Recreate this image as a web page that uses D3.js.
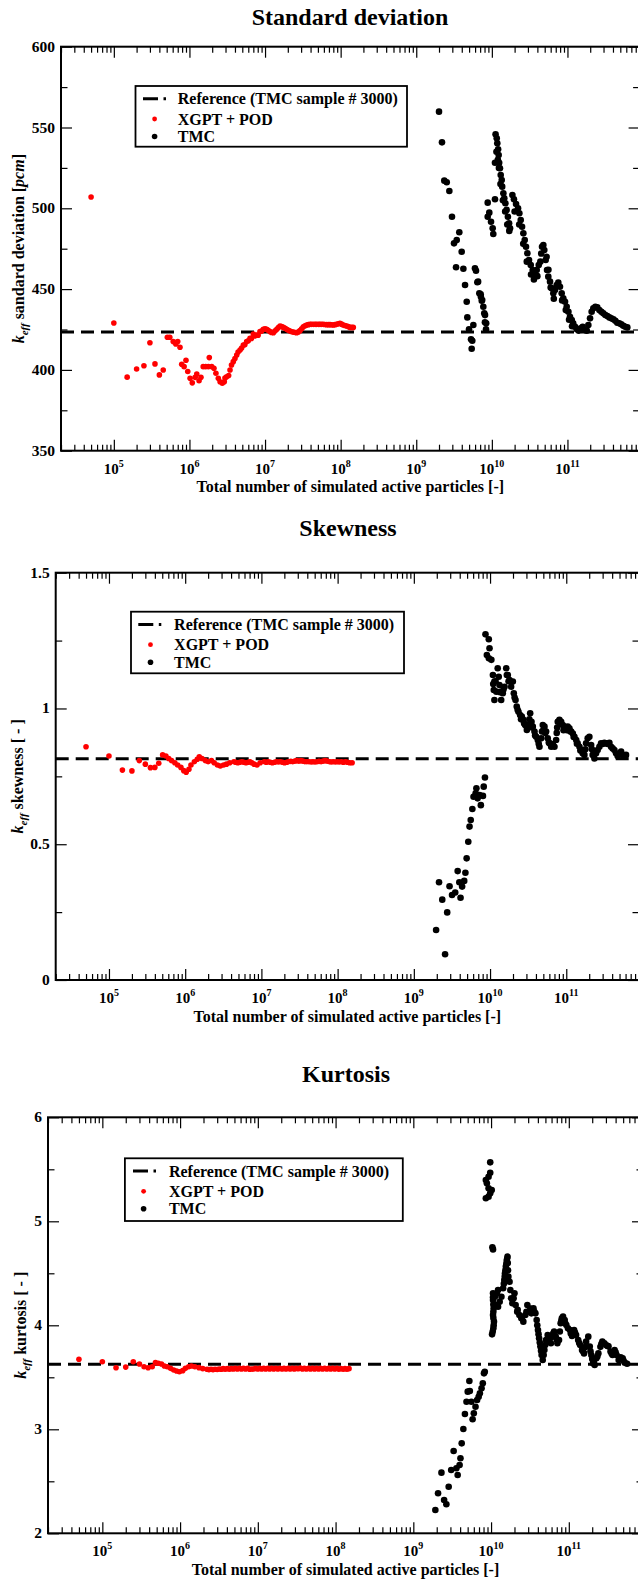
<!DOCTYPE html>
<html><head><meta charset="utf-8">
<script src="https://cdn.jsdelivr.net/npm/d3@7"></script>
<style>
body{margin:0;background:#fff}
svg{display:block}
text{font-family:"Liberation Serif","Times New Roman",serif;font-weight:bold;fill:#000}
</style></head>
<body><svg id="c" width="638" height="1580"></svg>
<script>
// ---------------- DATA ----------------
const xDomain = [2e4, 9e11];
const xLabelExps = [5, 6, 7, 8, 9, 10, 11];
const legendLabels = ["Reference (TMC sample # 3000)", "XGPT + POD", "TMC"];
const titles = ["Standard deviation", "Skewness", "Kurtosis"];
const yTitleWords = [" sandard deviation [", " skewness [ - ]", " kurtosis [ - ]"];

const stdYMajor = [350, 400, 450, 500, 550, 600];
const stdYMinor = [375, 425, 475, 525, 575];
const skewYMajor = [0, 0.5, 1, 1.5];
const skewYMinor = [0.25, 0.75, 1.25];
const kurtYMajor = [2, 3, 4, 5, 6];
const kurtYMinor = [2.5, 3.5, 4.5, 5.5];

const refStd = 423.5, refSkew = 0.815, refKurt = 3.625;

const stdXgpt = [[5.0e4,507],[1.0e5,429],[1.5e5,395.5],[2.0e5,400.6],[2.5e5,402.6],[3.0e5,416.8],[3.5e5,403.7],[4.0e5,396.9],[4.5e5,399.9],[5.1e5,420.2],[5.5e5,420.2],[6.1e5,417.5],[6.6e5,416],[7.0e5,417.5],[7.5e5,414],[7.9e5,403.5],[8.5e5,402],[9.0e5,406],[9.5e5,399],[1.02e6,394.8],[1.09e6,392],[1.19e6,395.4],[1.25e6,397.5],[1.34e6,393.3],[1.42e6,395.4],[1.52e6,402],[1.64e6,402],[1.78e6,402],[1.83e6,407.6],[1.97e6,402],[2.11e6,401],[2.24e6,397.9],[2.41e6,394.8],[2.54e6,392.7],[2.72e6,391.7],[2.89e6,392.7],[3.10e6,395.8],[3.44e6,399.9],[3.80e6,405.1],[4.22e6,409.2],[4.67e6,412.3],[5.16e6,415.4],[5.71e6,417.5],[6.32e6,419.5],[7.00e6,422.2],[7.74e6,421.6],[8.57e6,423.7],[9.48e6,425.1],[1.05e7,425.1],[1.16e7,423.7],[1.29e7,423.0],[1.43e7,425.1],[1.58e7,427.2],[1.75e7,426.3],[1.93e7,425.1],[2.14e7,424.1],[2.37e7,423.4],[2.62e7,423.0],[2.90e7,424.3],[3.21e7,426.7],[3.55e7,427.8],[3.93e7,428.2],[4.35e7,428.2],[4.81e7,428.2],[5.32e7,428.2],[5.89e7,428.2],[6.53e7,428.0],[7.23e7,428.0],[8.0e7,427.8],[8.85e7,428.2],[9.79e7,428.8],[1.08e8,427.8],[1.20e8,427.2],[1.33e8,426.3],[1.47e8,426.3],
[2.95e6,395],[3.3e6,396.5],[3.6e6,403],[4.0e6,407],[4.4e6,411],[4.9e6,413.5],[5.4e6,415.5],[6.0e6,418],[6.6e6,419.5],[7.3e6,421],[8.1e6,421.5],[9.0e6,424],[1.0e7,425.5],[1.1e7,424.5],[1.22e7,423.2],[1.36e7,424.2],[1.5e7,426.2],[1.66e7,426.8],[1.84e7,425.8],[2.04e7,424.5],[2.25e7,423.6],[2.5e7,423.1],[2.76e7,423.5],[3.05e7,425.5],[3.38e7,427.3],[3.74e7,428],[4.1e7,428.2],[4.6e7,428.2],[5.1e7,428.2],[5.6e7,428.2],[6.2e7,428.1],[6.9e7,428],[7.6e7,427.9],[8.4e7,428],[9.3e7,428.5],[1.03e8,428.3],[1.14e8,427.5],[1.26e8,426.8],[1.4e8,426.3]];

const stdTmc = [[2.0e9,559.8],[2.19e9,540.8],[2.35e9,517.1],[2.53e9,516.1],[2.74e9,510.7],[2.97e9,494.8],[3.16e9,478.3],[3.43e9,480.4],[3.71e9,485.2],[3.99e9,473.1],[3.36e9,463.5],[4.2e9,462.6],[4.42e9,452.5],[4.65e9,442.2],[4.74e9,432.5],[4.99e9,425.1],[5.69e9,427.8],[5.3e9,418.9],[5.51e9,418.0],[5.41e9,413.1],[5.98e9,462.9],[6.17e9,461.4],[6.43e9,454.2],[6.58e9,454.6],[6.83e9,447.4],[7.12e9,446.8],[7.16e9,445.3],[7.35e9,442.8],[7.45e9,443.3],[7.71e9,439.1],[7.94e9,435.0],[8.12e9,433.9],[8.1e9,429.5],[8.37e9,425.1],[8.41e9,428.8],[8.81e9,503.5],[8.81e9,494.8],[9.25e9,497.3],[9.75e9,491.7],[1.025e10,487.6],[1.045e10,484.1],[1.1e10,505.6],
[1.10e10,528.2],[1.12e10,545.8],[1.16e10,543.3],[1.18e10,540.2],[1.21e10,536.5],[1.23e10,533],[1.25e10,528.2],[1.28e10,524.8],[1.31e10,520.6],[1.35e10,517.5],[1.37e10,513.4],[1.42e10,509.3],[1.46e10,506.2],[1.51e10,503.1],[1.57e10,499],[1.63e10,494.8],[1.69e10,490.7],[1.74e10,487.6],
[1.15e10,535],[1.2e10,530],[1.24e10,525],[1.3e10,515],[1.4e10,505],[1.5e10,498],[1.6e10,490],[1.7e10,486],
[1.87e10,508.2],[1.96e10,505.6],[2.09e10,502.7],[2.22e10,500],[2.31e10,496.9],[2.41e10,492.8],[2.51e10,488.6],[2.61e10,484.5],[2.72e10,480.4],[2.83e10,476.2],[2.95e10,472.2],[3.10e10,468],[3.27e10,464.9],[3.47e10,461.8],[3.69e10,458.7],[3.92e10,461.8],[4.17e10,464.9],[4.38e10,467],[4.5e10,472],[4.61e10,476.2],[4.80e10,477.3],[4.94e10,474.2],[5.15e10,468],[5.37e10,461.8],[5.58e10,457.7],[5.88e10,454.6],[6.19e10,450.5],[6.50e10,447.4],[6.84e10,449.4],[7.21e10,452.5],[7.57e10,454.0],[7.96e10,451.5],[8.39e10,447.4],[8.81e10,444.3],[9.29e10,442.2],[9.77e10,439.1],[1.03e11,436],[1.08e11,432.9],[1.14e11,430.9],[1.19e11,428.8],[1.26e11,426.7],[1.33e11,425.1],[1.41e11,424.3],[1.50e11,425.8],[1.59e11,426.7],[1.69e11,424.7],[1.80e11,424.3],[1.89e11,427.8],[1.99e11,431.9],[2.09e11,436],[2.20e11,438.1],[2.34e11,439.1],[2.48e11,438.7],[2.64e11,437.1],[2.81e11,436],[2.98e11,435],[3.17e11,434],[3.37e11,433.4],[3.58e11,432.5],[3.80e11,431.9],[4.05e11,431.3],[4.30e11,430.4],[4.56e11,429.2],[4.85e11,428.8],[5.15e11,428.2],[5.48e11,427.3],[5.82e11,426.7],[6.19e11,426.3],
[2.0e10,498],[2.3e10,490],[2.6e10,478],[2.9e10,467],[3.3e10,459],[3.6e10,456],[4.0e10,458],[5.3e10,470],[5.6e10,462],[6.0e10,451],[6.6e10,444],[8.5e10,443],[9.5e10,437],[1.05e11,431],[1.15e11,427]];

const skewXgpt = [[5.0e4,0.859],[1.0e5,0.825],[1.5e5,0.773],[2.0e5,0.770],[2.5e5,0.808],[3.0e5,0.795],[3.5e5,0.782],[4.0e5,0.783],[4.5e5,0.798],[5.06e5,0.829],[5.58e5,0.825],[6.08e5,0.816],[6.62e5,0.808],[7.31e5,0.800],[7.96e5,0.792],[8.79e5,0.783],[9.58e5,0.771],[1.03e6,0.765],[1.12e6,0.776],[1.19e6,0.792],[1.32e6,0.804],[1.44e6,0.813],[1.53e6,0.822],[1.66e6,0.816],[1.84e6,0.808],[2.0e6,0.804],[2.21e6,0.808],[2.40e6,0.800],[2.65e6,0.792],[2.89e6,0.788],[3.19e6,0.792],[3.48e6,0.795],[3.84e6,0.800],[4.35e6,0.804],[4.90e6,0.800],[5.55e6,0.804],[6.28e6,0.800],[7.08e6,0.804],[8.02e6,0.795],[8.75e6,0.792],[9.64e6,0.800],[1.09e7,0.804],[1.23e7,0.804],[1.39e7,0.800],[1.57e7,0.804],[1.78e7,0.804],[2.01e7,0.800],[2.28e7,0.804],[2.58e7,0.804],[2.90e7,0.808],[3.29e7,0.808],[3.72e7,0.804],[4.20e7,0.804],[4.75e7,0.804],[5.38e7,0.804],[6.07e7,0.804],[6.87e7,0.808],[7.78e7,0.804],[8.77e7,0.804],[9.93e7,0.804],[1.12e8,0.804],[1.27e8,0.804],[1.44e8,0.800],[1.55e8,0.800],
[4.6e6,0.802],[5.2e6,0.802],[5.9e6,0.802],[6.7e6,0.802],[7.5e6,0.800],[1.16e7,0.802],[1.31e7,0.802],[1.48e7,0.802],[1.67e7,0.803],[1.9e7,0.802],[2.15e7,0.802],[2.43e7,0.805],[2.75e7,0.806],[3.1e7,0.806],[3.5e7,0.806],[3.95e7,0.804],[4.5e7,0.803],[5.05e7,0.803],[5.7e7,0.805],[6.45e7,0.806],[7.3e7,0.806],[8.25e7,0.803],[9.35e7,0.803],[1.05e8,0.803],[1.19e8,0.802],[1.35e8,0.802]];

const skewTmc = [[1.96e9,0.184],[2.14e9,0.360],[2.36e9,0.296],[2.57e9,0.095],[2.74e9,0.249],[2.94e9,0.345],[3.17e9,0.313],[3.49e9,0.322],[3.76e9,0.401],[3.95e9,0.360],[4.10e9,0.303],[4.30e9,0.344],[4.58e9,0.365],[4.75e9,0.395],[4.93e9,0.448],[5.18e9,0.509],[5.38e9,0.565],[5.58e9,0.589],[5.86e9,0.630],[6.07e9,0.675],[6.47e9,0.688],[6.62e9,0.706],[6.87e9,0.669],[7.29e9,0.681],[7.57e9,0.644],[8.07e9,0.678],[8.26e9,0.712],[8.57e9,0.746],
[8.71e9,1.273],[9.63e9,1.255],[9.84e9,1.222],[9.08e9,1.197],[9.64e9,1.185],[1.04e10,1.179],[1.09e10,1.123],[1.12e10,1.068],[1.14e10,1.099],[1.14e10,1.031],[1.21e10,1.062],[1.26e10,1.148],[1.30e10,1.117],[1.33e10,1.086],[1.40e10,1.031],[1.47e10,1.056],[1.55e10,1.080],[1.63e10,1.148],[1.66e10,1.123],[1.71e10,1.123],[1.80e10,1.105],[1.89e10,1.080],[1.99e10,1.099],[2.05e10,1.056],[2.16e10,1.031],[2.24e10,1.007],[2.36e10,0.988],[2.48e10,0.976],[2.61e10,0.970],[2.74e10,0.958],[2.89e10,0.939],[3.04e10,0.921],[3.19e10,0.939],[3.28e10,0.960],[3.36e10,0.982],[3.50e10,0.951],[3.64e10,0.933],[3.83e10,0.915],[4.03e10,0.896],[4.23e10,0.884],[4.45e10,0.859],[4.69e10,0.890],[4.80e10,0.915],[4.92e10,0.939],[5.18e10,0.933],[5.44e10,0.915],[5.71e10,0.890],[6.01e10,0.872],[6.34e10,0.859],[6.65e10,0.869],[7.00e10,0.859],[7.36e10,0.884],[7.50e10,0.910],[7.60e10,0.930],[7.73e10,0.951],[8.13e10,0.958],[8.57e10,0.951],[8.99e10,0.939],[9.46e10,0.933],[9.95e10,0.927],[1.045e11,0.933],[1.10e11,0.927],[1.16e11,0.915],[1.22e11,0.908],[1.28e11,0.896],[1.35e11,0.884],[1.41e11,0.872],[1.49e11,0.859],[1.57e11,0.847],[1.64e11,0.835],[1.73e11,0.829],[1.78e11,0.850],[1.82e11,0.872],[1.91e11,0.890],[2.01e11,0.896],[2.12e11,0.865],[2.17e11,0.850],[2.22e11,0.829],[2.34e11,0.816],[2.46e11,0.835],[2.58e11,0.847],[2.72e11,0.859],[2.86e11,0.872],[3.01e11,0.869],[3.16e11,0.874],[3.33e11,0.872],[3.49e11,0.869],[3.68e11,0.874],[3.87e11,0.859],[4.06e11,0.853],[4.28e11,0.847],[4.50e11,0.835],[4.72e11,0.825],[4.98e11,0.832],[5.24e11,0.841],[5.50e11,0.829],[5.78e11,0.822],[6.08e11,0.829],
[1.1e10,1.09],[1.18e10,1.10],[1.35e10,1.06],[1.5e10,1.07],[1.75e10,1.10],[2.1e10,1.04],[2.3e10,0.995],[2.55e10,0.96],[2.8e10,0.945],[3.0e10,0.935],[3.3e10,0.935],[3.55e10,0.93],[3.9e10,0.90],[4.35e10,0.87],[5.0e10,0.92],[5.3e10,0.91],[5.9e10,0.875],[6.5e10,0.865],[8.3e10,0.945],[9.2e10,0.92],[1.02e11,0.92],[1.13e11,0.915],[1.25e11,0.895],[1.38e11,0.87],[1.53e11,0.845]];

const kurtXgpt = [[5.0e4,3.673],[1.0e5,3.650],[1.5e5,3.592],[2.0e5,3.598],[2.5e5,3.650],[3.0e5,3.628],[3.44e5,3.602],[3.88e5,3.592],[4.38e5,3.602],[4.82e5,3.641],[5.25e5,3.635],[5.77e5,3.628],[6.28e5,3.609],[6.82e5,3.602],[7.53e5,3.586],[8.28e5,3.570],[9.02e5,3.561],[9.79e5,3.554],[1.08e6,3.564],[1.17e6,3.586],[1.29e6,3.602],[1.40e6,3.609],[1.55e6,3.602],[1.75e6,3.593],[1.96e6,3.583],[2.22e6,3.577],[2.50e6,3.577],[2.82e6,3.577],[3.18e6,3.580],[3.59e6,3.583],[4.05e6,3.583],[4.56e6,3.583],[5.14e6,3.586],[5.81e6,3.586],[6.53e6,3.586],[7.38e6,3.586],[8.32e6,3.580],[9.38e6,3.586],[1.06e7,3.586],[1.19e7,3.586],[1.34e7,3.586],[1.51e7,3.586],[1.71e7,3.586],[1.92e7,3.586],[2.17e7,3.586],[2.45e7,3.586],[2.77e7,3.586],[3.11e7,3.586],[3.52e7,3.590],[3.96e7,3.586],[4.47e7,3.586],[5.04e7,3.586],[5.69e7,3.586],[6.40e7,3.586],[7.23e7,3.586],[8.15e7,3.586],[9.18e7,3.586],[1.04e8,3.586],[1.17e8,3.583],[1.32e8,3.583],[1.49e8,3.583],
[2.35e6,3.574],[2.65e6,3.574],[3.0e6,3.575],[3.38e6,3.577],[3.8e6,3.578],[4.3e6,3.578],[4.85e6,3.580],[5.45e6,3.580],[6.15e6,3.580],[6.95e6,3.580],[7.85e6,3.577],[8.85e6,3.580],[1.0e7,3.580],[1.12e7,3.580],[1.26e7,3.580],[1.42e7,3.580],[1.6e7,3.580],[1.81e7,3.580],[2.05e7,3.580],[2.3e7,3.580],[2.6e7,3.580],[2.94e7,3.580],[3.3e7,3.582],[3.74e7,3.580],[4.2e7,3.580],[4.75e7,3.580],[5.36e7,3.580],[6.05e7,3.580],[6.8e7,3.580],[7.7e7,3.580],[8.65e7,3.580],[9.75e7,3.580],[1.1e8,3.578],[1.25e8,3.578],[1.4e8,3.578]];

const kurtTmc = [[1.92e9,2.224],[2.08e9,2.385],[2.30e9,2.583],[2.49e9,2.320],[2.66e9,2.279],[2.85e9,2.448],[3.07e9,2.609],[3.30e9,2.791],[3.58e9,2.625],[3.72e9,2.560],[3.94e9,2.657],[4.04e9,2.721],[4.19e9,2.865],[4.40e9,3.003],[4.61e9,3.147],[4.83e9,3.265],[5.01e9,3.362],[5.26e9,3.465],[5.33e9,3.368],[5.58e9,3.265],[5.79e9,3.096],[6.00e9,3.154],[6.31e9,3.217],[6.61e9,3.282],[6.93e9,3.313],[7.18e9,3.346],[7.55e9,3.394],[7.83e9,3.442],[8.11e9,3.538],[8.30e9,3.554],
[9.75e9,5.567],[9.75e9,5.467],[9.29e9,5.429],[8.57e9,5.397],[8.83e9,5.365],[9.29e9,5.317],[1.02e10,5.301],[9.75e9,5.269],[8.57e9,5.221],[9.29e9,5.237],[1.04e10,4.750],[1.06e10,4.730],
[1.03e10,3.913],[1.05e10,3.94],[1.07e10,3.971],[1.08e10,4.0],[1.09e10,4.035],[1.07e10,4.07],[1.06e10,4.099],[1.07e10,4.13],[1.08e10,4.163],[1.07e10,4.2],[1.06e10,4.243],[1.06e10,4.27],[1.06e10,4.308],[1.12e10,4.275],[1.19e10,4.308],[1.23e10,4.339],[1.15e10,4.195],[1.23e10,4.179],[1.29e10,4.227],[1.36e10,4.275],[1.43e10,4.356],[1.46e10,4.40],[1.48e10,4.436],[1.50e10,4.47],[1.51e10,4.500],[1.53e10,4.53],[1.55e10,4.564],[1.57e10,4.59],[1.59e10,4.621],[1.61e10,4.64],[1.63e10,4.660],[1.64e10,4.60],[1.65e10,4.53],[1.67e10,4.468],[1.73e10,4.419],[1.77e10,4.339],[1.81e10,4.260],[1.88e10,4.212],[1.95e10,4.260],[2.00e10,4.308],[2.07e10,4.195],[2.17e10,4.131],[2.31e10,4.099],[2.45e10,4.067],[2.60e10,4.035],[2.76e10,4.099],[2.93e10,4.195],[3.11e10,4.131],[3.30e10,4.115],[3.51e10,4.163],[3.72e10,4.115],[3.86e10,4.051],[3.93e10,4.0],[4.01e10,3.955],[4.08e10,3.915],[4.15e10,3.875],[4.23e10,3.835],[4.31e10,3.795],[4.39e10,3.755],[4.47e10,3.714],[4.62e10,3.666],[4.75e10,3.715],[4.85e10,3.763],[4.97e10,3.81],[5.09e10,3.859],[5.35e10,3.907],[5.61e10,3.859],[5.89e10,3.827],[6.17e10,3.891],[6.47e10,3.939],[6.79e10,3.891],[7.13e10,3.827],[7.48e10,3.859],[7.67e10,3.94],[7.85e10,4.019],[8.13e10,4.067],[8.43e10,4.083],[8.85e10,4.051],[9.29e10,4.003],[9.75e10,3.971],[1.035e11,3.955],[1.10e11,3.897],[1.17e11,3.955],[1.24e11,3.907],[1.32e11,3.859],[1.40e11,3.810],[1.48e11,3.763],[1.57e11,3.730],[1.62e11,3.79],[1.67e11,3.843],[1.78e11,3.891],[1.86e11,3.795],[1.90e11,3.75],[1.95e11,3.714],[2.00e11,3.675],[2.05e11,3.635],[2.15e11,3.619],[2.26e11,3.683],[2.40e11,3.730],[2.55e11,3.793],[2.70e11,3.843],[2.87e11,3.827],[3.05e11,3.807],[3.24e11,3.798],[3.44e11,3.747],[3.65e11,3.714],[3.88e11,3.763],[4.12e11,3.714],[4.38e11,3.666],[4.65e11,3.692],[4.93e11,3.683],[5.24e11,3.641],[5.62e11,3.631],
[2.2e10,4.15],[2.5e10,4.08],[2.85e10,4.13],[3.2e10,4.16],[3.6e10,4.13],[5.2e10,3.85],[5.75e10,3.88],[6.3e10,3.92],[7.0e10,3.86],[8.0e10,4.04],[9.0e10,4.02],[1.06e11,3.92],[1.2e11,3.93],[1.36e11,3.83],[1.52e11,3.75],[2.1e11,3.65],[2.33e11,3.70],[2.62e11,3.82],[3.15e11,3.80],[3.55e11,3.73],[4.0e11,3.74],[4.5e11,3.68],[5.05e11,3.66]];

// ---------------- LAYOUT ----------------
const panels = [
  {id:"sd", title:titles[0], titleX:350, titleY:25, left:61, right:639.6, top:46.7, bottom:450.7,
   yDomain:[350,600], yMajor:stdYMajor, yMinor:stdYMinor, ref:refStd, red:stdXgpt, black:stdTmc,
   legend:{x:135.5,y:86,w:271.5,h:60.7,sx:143,dotx:154.6,tx:177.8}, ytX:23.5, ytWords:yTitleWords[0], pcm:true},
  {id:"sk", title:titles[1], titleX:348, titleY:536, left:55.7, right:639, top:572.7, bottom:980,
   yDomain:[0,1.5], yMajor:skewYMajor, yMinor:skewYMinor, ref:refSkew, red:skewXgpt, black:skewTmc,
   legend:{x:131,y:611.7,w:273,h:61.6,sx:138.3,dotx:150.5,tx:174.1}, ytX:22.5, ytWords:yTitleWords[1], pcm:false},
  {id:"ku", title:titles[2], titleX:346, titleY:1082.3, left:48, right:643, top:1117.3, bottom:1533.3,
   yDomain:[2,6], yMajor:kurtYMajor, yMinor:kurtYMinor, ref:refKurt, red:kurtXgpt, black:kurtTmc,
   legend:{x:124.9,y:1158.3,w:277.9,h:62.7,sx:133,dotx:143.6,tx:168.9}, ytX:26, ytWords:yTitleWords[2], pcm:false}
];

const svg = d3.select("#c");
const defs = svg.append("defs");

function styleAxis(sel){
  sel.select(".domain").remove();
  sel.selectAll(".tick line").attr("stroke","#000").attr("stroke-width",1.2);
  sel.selectAll(".tick text").remove();
}

panels.forEach(p => {
  const x = d3.scaleLog().domain(xDomain).range([p.left, p.right]);
  const y = d3.scaleLinear().domain(p.yDomain).range([p.bottom, p.top]);
  const g = svg.append("g");

  defs.append("clipPath").attr("id","clip-"+p.id).append("rect")
    .attr("x",p.left).attr("y",p.top).attr("width",p.right-p.left).attr("height",p.bottom-p.top);

  // title
  g.append("text").attr("x",p.titleX).attr("y",p.titleY).attr("text-anchor","middle")
    .style("font-size","24px").text(p.title);

  // reference line
  g.append("line").attr("clip-path","url(#clip-"+p.id+")")
    .attr("x1",p.left).attr("x2",p.right).attr("y1",y(p.ref)).attr("y2",y(p.ref))
    .attr("stroke","#000").attr("stroke-width",3).attr("stroke-dasharray","13,7");

  const pts = g.append("g").attr("clip-path","url(#clip-"+p.id+")");
  pts.selectAll("circle.r").data(p.red).join("circle").attr("class","r")
    .attr("cx",d=>x(d[0])).attr("cy",d=>y(d[1])).attr("r",2.8).attr("fill","#ff0000");
  pts.selectAll("circle.b").data(p.black).join("circle").attr("class","b")
    .attr("cx",d=>x(d[0])).attr("cy",d=>y(d[1])).attr("r",3.3).attr("fill","#000");

  // x ticks
  const all = x.ticks();
  const isMajor = t => Math.abs(Math.log10(t) - Math.round(Math.log10(t))) < 1e-9;
  const xMaj = all.filter(isMajor), xMin = all.filter(t=>!isMajor(t));
  [[d3.axisBottom, p.bottom],[d3.axisTop, p.top]].forEach(([ax, pos]) => {
    g.append("g").attr("transform",`translate(0,${pos})`).call(ax(x).tickValues(xMin).tickSize(-6).tickFormat("")).call(styleAxis);
    g.append("g").attr("transform",`translate(0,${pos})`).call(ax(x).tickValues(xMaj).tickSize(-11).tickFormat("")).call(styleAxis);
  });
  [[d3.axisLeft, p.left],[d3.axisRight, p.right]].forEach(([ax, pos]) => {
    g.append("g").attr("transform",`translate(${pos},0)`).call(ax(y).tickValues(p.yMinor).tickSize(-6.5).tickFormat("")).call(styleAxis);
    g.append("g").attr("transform",`translate(${pos},0)`).call(ax(y).tickValues(p.yMajor).tickSize(-11).tickFormat("")).call(styleAxis);
  });

  // frame
  g.append("rect").attr("x",p.left).attr("y",p.top).attr("width",p.right-p.left).attr("height",p.bottom-p.top)
    .attr("fill","none").attr("stroke","#000").attr("stroke-width",2);

  // y tick labels
  g.selectAll("text.yl").data(p.yMajor).join("text").attr("class","yl")
    .attr("x",p.left-6).attr("y",d=>y(d)+5).attr("text-anchor","end")
    .style("font-size","15.5px").text(d=>String(d));

  // x tick labels
  xLabelExps.forEach(e => {
    const t = g.append("text").attr("x",x(Math.pow(10,e))).attr("y",p.bottom+23).attr("text-anchor","middle");
    t.append("tspan").style("font-size","15px").text("10");
    t.append("tspan").style("font-size","10px").attr("dy",-7).text(String(e));
  });

  // x title
  g.append("text").attr("x",(p.left+p.right)/2).attr("y",p.bottom+41.5).attr("text-anchor","middle")
    .style("font-size","16px").text("Total number of simulated active particles [-]");

  // y title
  const yt = g.append("text").attr("transform",`translate(${p.ytX},${(p.top+p.bottom)/2}) rotate(-90)`)
    .attr("text-anchor","middle").style("font-size","16px");
  yt.append("tspan").style("font-style","italic").text("k");
  yt.append("tspan").style("font-style","italic").style("font-size","11px").attr("dy",4).text("eff");
  yt.append("tspan").attr("dy",-4).text(p.ytWords);
  if (p.pcm) {
    yt.append("tspan").style("font-style","italic").text("pcm");
    yt.append("tspan").text("]");
  }

  // legend
  const L = p.legend;
  const lg = g.append("g");
  lg.append("rect").attr("x",L.x).attr("y",L.y).attr("width",L.w).attr("height",L.h)
    .attr("fill","#fff").attr("stroke","#000").attr("stroke-width",1.8);
  const rows = [L.y+12.7, L.y+33, L.y+50.5];
  lg.append("line").attr("x1",L.sx).attr("x2",L.sx+23).attr("y1",rows[0]).attr("y2",rows[0])
    .attr("stroke","#000").attr("stroke-width",3).attr("stroke-dasharray","15,5.5,2.5,100");
  lg.append("circle").attr("cx",L.dotx).attr("cy",rows[1]).attr("r",2.4).attr("fill","#ff0000");
  lg.append("circle").attr("cx",L.dotx).attr("cy",rows[2]).attr("r",2.8).attr("fill","#000");
  legendLabels.forEach((s,i) => {
    lg.append("text").attr("x",L.tx).attr("y",rows[i]+5.5).style("font-size","16px").text(s);
  });
});
</script>
</body></html>
